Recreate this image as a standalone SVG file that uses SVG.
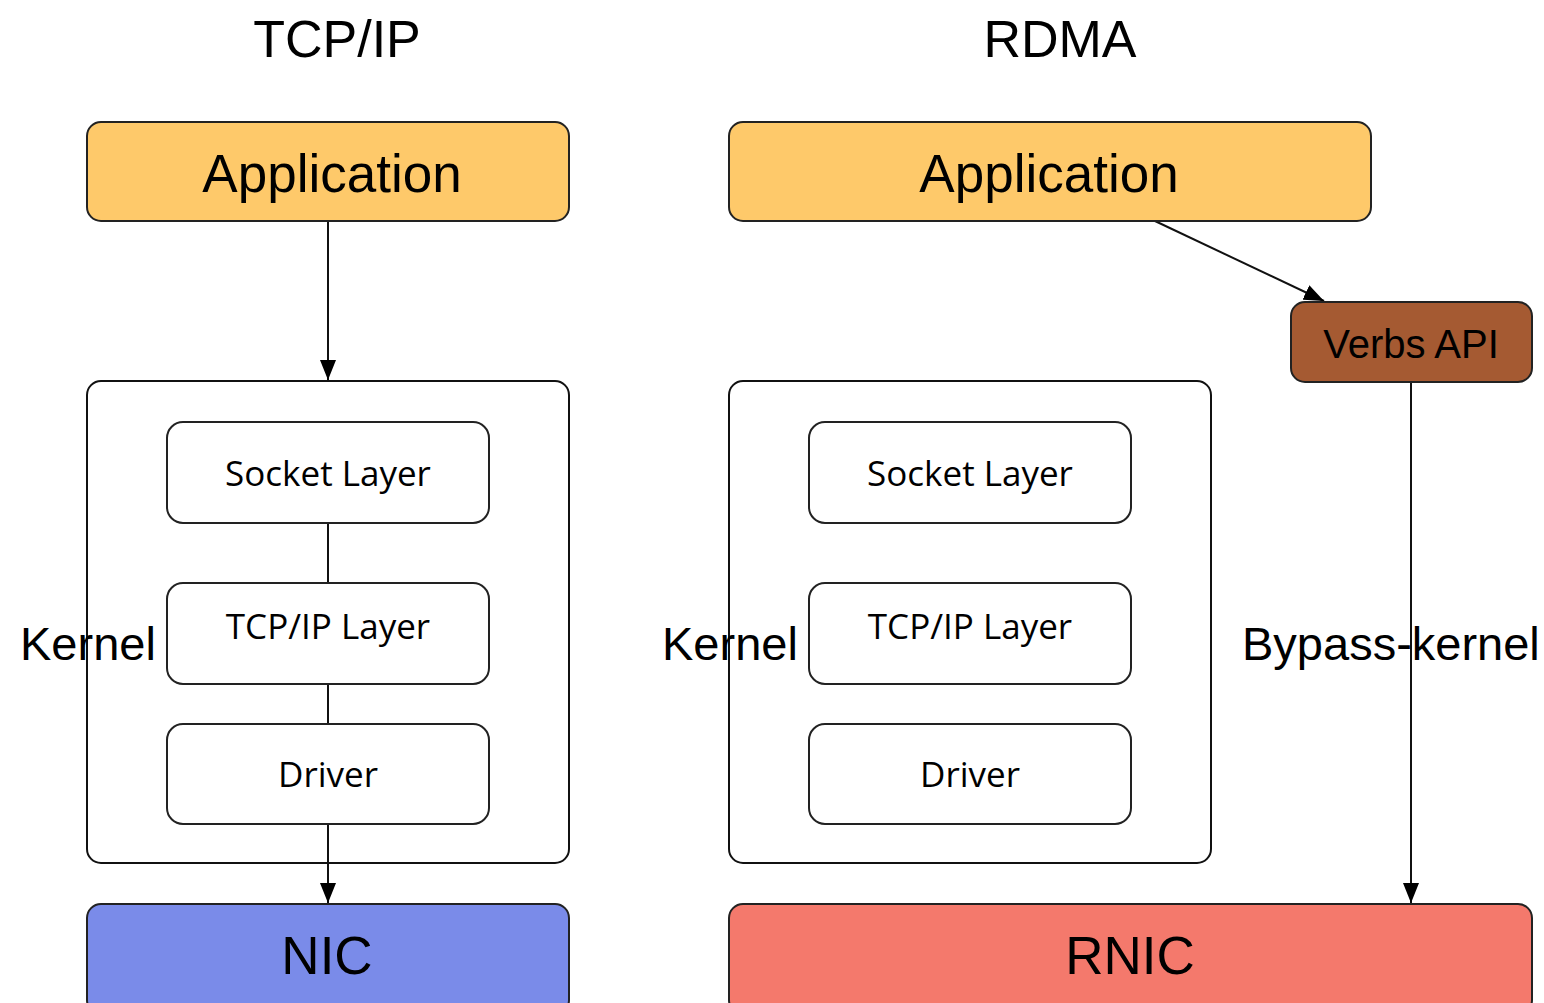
<svg xmlns="http://www.w3.org/2000/svg" width="1544" height="1003" viewBox="0 0 1544 1003">
  <style>
    .box { stroke: #222; stroke-width: 2; }
    .app { fill: #FEC96A; }
    .verbs { fill: #A55A32; }
    .nic { fill: #7A8BE9; }
    .rnic { fill: #F4796C; }
    .plain { fill: #fff; }
    .helv { font-family: "Liberation Sans", Arial, sans-serif; fill: #000; }
    .layer { font-family: "Open Sans", "Noto Sans", sans-serif; font-size: 35px; fill: #000; text-anchor: middle; }
    .big { font-size: 53px; text-anchor: middle; }
    .title { font-size: 52px; text-anchor: middle; }
    .side { font-size: 47px; }
    .conn { stroke: #111; stroke-width: 2; fill: none; }
  </style>
  <defs>
    <marker id="arrow" viewBox="0 0 20 16" refX="20" refY="8" markerWidth="20" markerHeight="16" markerUnits="userSpaceOnUse" orient="auto">
      <path d="M0,0 L20,8 L0,16 Z" fill="#000"/>
    </marker>
  </defs>
  <rect width="1544" height="1003" fill="#fff"/>

  <!-- column titles -->
  <text class="helv title" x="337" y="57">TCP/IP</text>
  <text class="helv title" x="1060" y="57">RDMA</text>

  <!-- connectors -->
  <g id="connectors">
    <line class="conn" x1="328" y1="221" x2="328" y2="380" marker-end="url(#arrow)"/>
    <line class="conn" x1="328" y1="523" x2="328" y2="583"/>
    <line class="conn" x1="328" y1="684" x2="328" y2="724"/>
    <line class="conn" x1="328" y1="824" x2="328" y2="903" marker-end="url(#arrow)"/>
    <line class="conn" x1="1155" y1="221" x2="1324" y2="301" marker-end="url(#arrow)"/>
    <line class="conn" x1="1411" y1="382" x2="1411" y2="903" marker-end="url(#arrow)"/>
  </g>

  <!-- TCP/IP stack -->
  <g id="tcp-app">
    <rect class="box app" x="87" y="122" width="482" height="99" rx="14"/>
    <text class="helv big" x="332" y="192">Application</text>
  </g>
  <g id="tcp-kernel">
    <rect class="conn" x="87" y="381" width="482" height="482" rx="14"/>
    <text class="helv side" x="20" y="660">Kernel</text>
  </g>
  <g id="tcp-socket">
    <rect class="box plain" x="167" y="422" width="322" height="101" rx="16"/>
    <text class="layer" x="328" y="486">Socket Layer</text>
  </g>
  <g id="tcp-tcpip">
    <rect class="box plain" x="167" y="583" width="322" height="101" rx="16"/>
    <text class="layer" x="328" y="639">TCP/IP Layer</text>
  </g>
  <g id="tcp-driver">
    <rect class="box plain" x="167" y="724" width="322" height="100" rx="16"/>
    <text class="layer" x="328" y="787">Driver</text>
  </g>
  <g id="tcp-nic">
    <rect class="box nic" x="87" y="904" width="482" height="110" rx="14"/>
    <text class="helv big" x="327" y="974">NIC</text>
  </g>

  <!-- RDMA stack -->
  <g id="rdma-app">
    <rect class="box app" x="729" y="122" width="642" height="99" rx="14"/>
    <text class="helv big" x="1049" y="192">Application</text>
  </g>
  <g id="rdma-verbs">
    <rect class="box verbs" x="1291" y="302" width="241" height="80" rx="14"/>
    <text class="helv" x="1411" y="358" font-size="40" text-anchor="middle">Verbs API</text>
  </g>
  <g id="rdma-kernel">
    <rect class="conn" x="729" y="381" width="482" height="482" rx="14"/>
    <text class="helv side" x="662" y="660">Kernel</text>
  </g>
  <g id="rdma-socket">
    <rect class="box plain" x="809" y="422" width="322" height="101" rx="16"/>
    <text class="layer" x="970" y="486">Socket Layer</text>
  </g>
  <g id="rdma-tcpip">
    <rect class="box plain" x="809" y="583" width="322" height="101" rx="16"/>
    <text class="layer" x="970" y="639">TCP/IP Layer</text>
  </g>
  <g id="rdma-driver">
    <rect class="box plain" x="809" y="724" width="322" height="100" rx="16"/>
    <text class="layer" x="970" y="787">Driver</text>
  </g>
  <g id="bypass-label">
    <text class="helv side" x="1242" y="660">Bypass-kernel</text>
  </g>
  <g id="rdma-rnic">
    <rect class="box rnic" x="729" y="904" width="803" height="110" rx="14"/>
    <text class="helv big" x="1130" y="974">RNIC</text>
  </g>
</svg>
